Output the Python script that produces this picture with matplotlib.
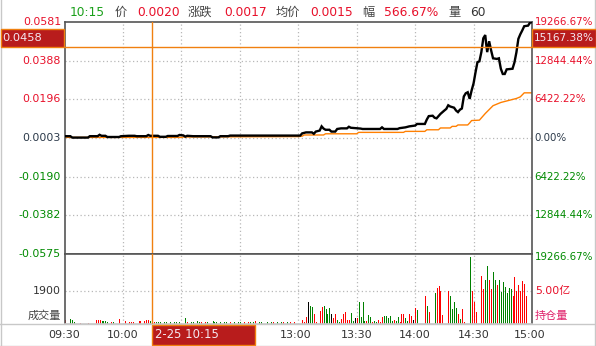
import matplotlib
matplotlib.use("Agg")
import matplotlib.pyplot as plt
from matplotlib.patches import Rectangle
from matplotlib.lines import Line2D

plt.rcParams['font.family'] = ['DejaVu Sans', 'Noto Sans CJK SC']

# ---------------- data ----------------
prev_close = 0.0003
y_ticks = [0.0581, 0.0388, 0.0196, 0.0003, -0.0190, -0.0382, -0.0575]
y_tick_labels = ["0.0581", "0.0388", "0.0196", "0.0003", "-0.0190", "-0.0382", "-0.0575"]
pct_labels = ["19266.67%", "12844.44%", "6422.22%", "0.00%", "6422.22%", "12844.44%", "19266.67%"]
x_tick_pos = [0, 30, 120, 150, 180, 210, 240]
x_tick_labels = ["09:30", "10:00", "13:00", "13:30", "14:00", "14:30", "15:00"]

price_min = [0, 3, 4, 12, 13, 17, 18, 19, 21, 22, 28, 29, 33, 36, 37, 42, 43, 44, 48, 49,
             52, 53, 58, 59, 61, 62, 63, 66, 75, 76, 79, 80, 84, 85, 120,
             121, 122, 124, 127, 128, 129, 131, 132, 133, 134, 136, 137, 139, 140, 142,
             145, 146, 147, 152, 153, 162, 163, 164, 171, 172, 175, 177, 180, 181, 185,
             186, 187, 189, 190, 191, 192, 193, 195, 196, 197, 198, 200, 201, 202, 203,
             204, 205, 206, 207, 208, 209, 210, 211, 212, 213, 214, 215, 216, 216.5, 217,
             218, 219, 220, 222, 223, 224, 225, 226, 227, 230, 231, 232, 233, 234, 235,
             236, 238, 239, 240]
price_val = [0.0012, 0.0012, 0.0005, 0.0005, 0.0012, 0.0012, 0.0019, 0.0014, 0.0014, 0.0008,
             0.0008, 0.0012, 0.0014, 0.0014, 0.0012, 0.0012, 0.0018, 0.0014, 0.0014, 0.0009,
             0.0009, 0.0013, 0.0013, 0.0018, 0.0016, 0.0010, 0.0014, 0.0012, 0.0012, 0.0006,
             0.0006, 0.0012, 0.0012, 0.0015, 0.0015,
             0.0015, 0.0026, 0.0031, 0.0031, 0.0024, 0.0035, 0.0040, 0.0061, 0.0050, 0.0044,
             0.0044, 0.0035, 0.0035, 0.0048, 0.0051, 0.0051, 0.0059, 0.0054, 0.0050, 0.0048,
             0.0048, 0.0056, 0.0048, 0.0048, 0.0052, 0.0056, 0.0061, 0.0065, 0.0073, 0.0073,
             0.0095, 0.0112, 0.0114, 0.0104, 0.0101, 0.0112, 0.0123, 0.0140, 0.0148, 0.0166,
             0.0160, 0.0154, 0.0140, 0.0132, 0.0144, 0.0150, 0.0210, 0.0226, 0.0231, 0.0198,
             0.0240, 0.0275, 0.0330, 0.0381, 0.0385, 0.0431, 0.0500, 0.0516, 0.0470, 0.0431,
             0.0485, 0.0440, 0.0400, 0.0397, 0.0400, 0.0348, 0.0322, 0.0322, 0.0345, 0.0348,
             0.0380, 0.0430, 0.0497, 0.0520, 0.0539, 0.0560, 0.0563, 0.0578, 0.0580]

avg_min = [0, 60, 61, 120, 122, 123, 133, 134, 150, 151, 174, 175, 185, 186, 192, 193, 198,
           199, 201, 202, 207, 208, 209, 213, 216, 220, 224, 228, 232, 234, 236, 240]
avg_val = [0.0006, 0.0006, 0.0008, 0.0010, 0.0012, 0.0018, 0.0018, 0.0024, 0.0024, 0.0031,
           0.0031, 0.0036, 0.0036, 0.0044, 0.0044, 0.0053, 0.0053, 0.0061, 0.0061, 0.0068,
           0.0068, 0.0078, 0.0090, 0.0092, 0.0125, 0.0164, 0.0180, 0.0190, 0.0200, 0.0208,
           0.0228, 0.0228]

vol_min = [0, 3, 4, 5, 8, 12, 16, 17, 18, 19, 20, 21, 22, 24, 25, 28, 31, 33, 34, 35, 38, 39,
           41, 42, 43, 44, 46, 47, 48, 49, 51, 52, 54, 56, 57, 59, 62, 63, 65, 66, 68, 69, 70,
           72, 73, 76, 77, 78, 80, 82, 83, 85, 87, 89, 90, 92, 94, 95, 97, 98, 100, 101, 104,
           106, 107, 109, 111, 112, 114, 116, 118,
           122, 123, 124, 125, 126, 127, 128, 129, 131, 132, 133, 134, 135, 136, 137, 138,
           139, 140, 141, 142, 143, 144, 145, 146, 147, 148, 149, 150, 151, 152, 153, 154,
           155, 156, 157, 158, 159, 160, 161, 162, 163, 164, 165, 166, 167, 168, 169, 170,
           171, 172, 173, 174, 175, 176, 177, 178, 179, 180, 181, 185, 186, 187, 190, 191,
           192, 193, 194, 197, 198, 199, 200, 201, 202, 203, 204, 205, 208, 209, 210, 211,
           214, 215, 216, 217, 218, 219, 220, 221, 222, 223, 224, 225, 226, 227, 228, 229,
           230, 231, 232, 233, 234, 235, 236, 237, 240]
vol_val = [200, 260, 200, 100, 40, 40, 200, 200, 200, 160, 160, 140, 100, 100, 100, 240, 160,
           100, 100, 100, 140, 140, 140, 200, 200, 140, 100, 100, 80, 80, 80, 80, 80, 80, 60,
           80, 300, 80, 100, 100, 120, 80, 80, 80, 60, 120, 100, 80, 80, 80, 80, 80, 80, 80,
           80, 80, 80, 80, 80, 120, 80, 80, 80, 80, 80, 80, 80, 80, 80, 80, 80,
           200, 60, 400, 1290, 1030, 950, 550, 100, 750, 990, 1050, 850, 590, 910, 550, 320,
           550, 220, 80, 260, 590, 650, 200, 200, 610, 160, 320, 320, 1290, 360, 1290, 160,
           160, 530, 400, 100, 160, 60, 200, 100, 360, 440, 440, 300, 440, 160, 200, 160,
           400, 60, 550, 550, 300, 160, 550, 440, 200, 910, 790, 1620, 1050, 670, 1800, 2120,
           2200, 1940, 500, 1940, 1640, 850, 1250, 910, 590, 260, 850, 60, 3920, 1940, 1250,
           650, 2790, 2040, 2590, 3410, 2570, 2040, 3050, 2570, 2280, 2570, 1840, 2440, 2140,
           1800, 2100, 2020, 1600, 2750, 1900, 2280, 1900, 2510, 2340, 1600, 1250]
# r = up (red), g = down (green), k = flat (black)
vol_dir = list(
    "rgggrrrrrg" "gggrgrrrrr" "rrrrrgrggg" "gggggggrgg" "ggrrgggggg" "grgggrrggr"
    "ggggrggrgr" "r"
    "rrrkggrr" "rrggggkr" "rggrrrrr" "ggkrgggg" "rggrggrr" "rgggggrg" "grrrggrr"
    "krgrgrgr" "rrrrgggg" "rgrrgrrr" "rrggrrgg" "rggggggg" "rrrrrrrr" "r")

# ---------------- figure ----------------
W, H = 596, 346
fig = plt.figure(figsize=(W / 100, H / 100), dpi=100)
fig.patch.set_facecolor("white")

def fx(px):
    return px / W

def fy(py):
    return 1 - py / H

L, R = 64.5, 532.0
T, M, B = 22.0, 254.0, 323.5

RED = "#e8102a"
GREEN = "#008a00"
DARK = "#2c3a4a"
GRID = "#b8b8b8"
BORDER = "#555555"
ORANGE = "#f08010"

ax = fig.add_axes([fx(L), fy(M), fx(R - L), fy(T) - fy(M)])
axv = fig.add_axes([fx(L), fy(B), fx(R - L), fy(M) - fy(B)])

ymax, ymin = y_ticks[0], y_ticks[-1]
for a in (ax, axv):
    a.set_xlim(0, 240)
    a.set_xticks([])
    a.set_yticks([])
    for s in a.spines.values():
        s.set_color(BORDER)
        s.set_linewidth(1.2)
    for xg in [30, 60, 90, 120, 150, 180, 210]:
        a.axvline(xg, color=GRID, lw=0.9, ls=(0, (1, 2)), zorder=0)
axv.spines['bottom'].set_color("#c8c8c8")

ax.set_ylim(ymin, ymax)
for v in y_ticks[1:-1]:
    ax.axhline(v, color=GRID, lw=0.9, ls=(0, (1, 2)), zorder=0)

ax.plot(avg_min, avg_val, color="#ff7f00", lw=1.0, zorder=2)
ax.plot(price_min, price_val, color="black", lw=1.7, zorder=3, solid_joinstyle='miter')

vmax = 1900 * (B - M) / (B - 291.3)
axv.set_ylim(0, vmax)
axv.axhline(1900, color=GRID, lw=0.9, ls=(0, (1, 2)), zorder=0)
cmap = {"r": "#ff0000", "g": "#008000", "k": "#000000"}
colors = [cmap[c] for c in vol_dir[:len(vol_val)]]
axv.vlines(vol_min, 0, vol_val, colors=colors, linewidth=0.7, zorder=2, antialiased=False)

# crosshair
cross_t = 45
cross_p = 0.0458
ax.axvline(cross_t, color=ORANGE, lw=1.0, zorder=4)
axv.axvline(cross_t, color=ORANGE, lw=1.0, zorder=4)
ax.axhline(cross_p, color=ORANGE, lw=1.0, zorder=4)

def price_to_py(p):
    return T + (ymax - p) / (ymax - ymin) * (M - T)

def level_color(v):
    if abs(v - prev_close) < 1e-6:
        return DARK
    return RED if v > prev_close else GREEN

for v, lab in zip(y_ticks, y_tick_labels):
    fig.text(fx(61), fy(price_to_py(v)), lab, ha="right", va="center", fontsize=7.9,
             color=level_color(v))

for v, lab in zip(y_ticks, pct_labels):
    yoff = 3 if v == ymin else 0
    fig.text(fx(534.5), fy(price_to_py(v) + yoff), lab, ha="left", va="center",
             fontsize=7.4, color=level_color(v))

# crosshair label boxes
cy = price_to_py(cross_p)
BOXRED = "#b81c1c"
fig.patches.append(Rectangle((fx(0.5), fy(cy)), fx(L - 1), fy(cy - 18) - fy(cy),
                             transform=fig.transFigure, facecolor=BOXRED,
                             edgecolor=ORANGE, lw=1.0, zorder=5))
fig.text(fx(2), fy(cy - 9), "0.0458", ha="left", va="center", fontsize=8.2,
         color="#f4e8f0", zorder=6)
fig.patches.append(Rectangle((fx(R), fy(cy)), fx(W - R - 0.5), fy(cy - 18) - fy(cy),
                             transform=fig.transFigure, facecolor=BOXRED,
                             edgecolor=ORANGE, lw=1.0, zorder=5))
fig.text(fx(534), fy(cy - 9), "15167.38%", ha="left", va="center", fontsize=7.6,
         color="#f4e8f0", zorder=6)

cx = L + cross_t / 240 * (R - L)
fig.patches.append(Rectangle((fx(cx), fy(345)), fx(103), fy(B + 1) - fy(345),
                             transform=fig.transFigure, facecolor=BOXRED,
                             edgecolor=ORANGE, lw=1.0, zorder=5))
fig.text(fx(cx + 3), fy(334.5), "2-25 10:15", ha="left", va="center", fontsize=8.4,
         color="#f4e8f0", zorder=6)

# x tick labels
for t, lab in zip(x_tick_pos, x_tick_labels):
    px = L + t / 240 * (R - L)
    if t == 120:
        px -= 3
    if t == 240:
        px -= 2
    fig.text(fx(px), fy(334.5), lab, ha="center", va="center", fontsize=8.0, color="#333333")

# volume pane labels
fig.text(fx(61), fy(291.3), "1900", ha="right", va="center", fontsize=7.9, color="#333333")
fig.text(fx(61), fy(316), "成交量", ha="right", va="center", fontsize=8.0, color="#444444",
         family=['Noto Sans CJK SC'])
fig.text(fx(535), fy(291.3), "5.00亿", ha="left", va="center", fontsize=7.9, color=RED,
         family=['DejaVu Sans', 'Noto Sans CJK SC'])
fig.text(fx(535), fy(316), "持仓量", ha="left", va="center", fontsize=8.0, color="#e0206a",
         family=['Noto Sans CJK SC'])

# header
hdr = [(70, "10:15", "#1aa01a"), (115, "价", "#444444"), (137, "0.0020", RED),
       (188, "涨跌", "#444444"), (224, "0.0017", RED), (276, "均价", "#444444"),
       (310, "0.0015", RED), (362, "幅", "#444444"), (384, "566.67%", RED),
       (448, "量", "#444444"), (470, "60", "#333333")]
for px, s, c in hdr:
    fig.text(fx(px), fy(12.5), s, ha="left", va="center", fontsize=8.8, color=c,
             family=['DejaVu Sans', 'Noto Sans CJK SC'])

# outer frame lines
fig.lines.append(Line2D([fx(0), fx(W)], [fy(B + 0.5), fy(B + 0.5)], transform=fig.transFigure,
                        color="#c8c8c8", lw=1.0))
fig.lines.append(Line2D([fx(0), fx(W)], [fy(345.5), fy(345.5)], transform=fig.transFigure,
                        color="#c8c8c8", lw=1.0))
fig.lines.append(Line2D([fx(1), fx(1)], [fy(0), fy(H)], transform=fig.transFigure,
                        color="#c8c8c8", lw=1.0))
fig.lines.append(Line2D([fx(595), fx(595)], [fy(0), fy(H)], transform=fig.transFigure,
                        color="#c8c8c8", lw=1.0))

fig.savefig("out.png", dpi=100, facecolor="white")
